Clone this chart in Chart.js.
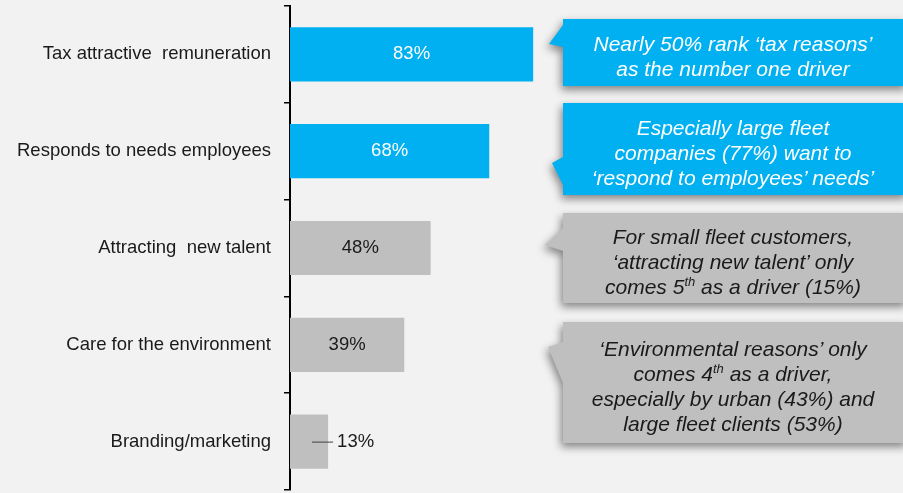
<!DOCTYPE html>
<html>
<head>
<meta charset="utf-8">
<script src="https://cdn.jsdelivr.net/npm/chart.js@4.4.1/dist/chart.umd.min.js"></script>
<style>
    html, body { margin: 0; padding: 0; background: #f2f2f2; }
    #wrap { position: relative; width: 903px; height: 493px; overflow: hidden; }
    #chart { position: absolute; left: 0; top: 0; }
    .shd { position: absolute; filter: drop-shadow(-2px 4px 4px rgba(0,0,0,0.45)); }
    .co {
        position: absolute; left: 0; top: 0; right: 0; bottom: 0;
        display: flex; align-items: center; justify-content: center;
        box-sizing: border-box; padding-top: 6px;
        font-family: "Liberation Sans", Arial, sans-serif; font-style: italic;
        font-size: 21px; line-height: 25px; text-align: center;
    }
    .co sup { font-size: 13px; line-height: 0; vertical-align: 8px; }
    .blue { background: #00b0f0; color: #ffffff; }
    .grey { background: #bfbfbf; color: #1a1a1a; }
</style>
</head>
<body>
<div id="wrap">
    <canvas id="chart" width="903" height="493"></canvas>
</div>
<script>
//Данные графика
var categories = ["Tax attractive  remuneration", "Responds to needs employees", "Attracting  new talent", "Care for the environment", "Branding/marketing"];
var values = [83, 68, 48, 39, 13];
var barColors = ["#00b0f0", "#00b0f0", "#bfbfbf", "#bfbfbf", "#bfbfbf"];
var labelColors = ["#ffffff", "#ffffff", "#1a1a1a", "#1a1a1a", "#1a1a1a"];

//Выноски справа (tip - вершина стрелки, a1/a2 - основание стрелки, off - длина стрелки)
var callouts = [
    {top: 19, height: 67, tip: 25, a1: 6, a2: 28, off: 14, cls: "blue", html: "Nearly 50% rank ‘tax reasons’<br>as the number one driver"},
    {top: 103, height: 92, tip: 60, a1: 54, a2: 82, off: 11, cls: "blue", html: "Especially large fleet<br>companies (77%) want to<br>‘respond to employees’ needs’"},
    {top: 213, height: 90, tip: 32, a1: 15, a2: 38, off: 18, cls: "grey", html: "For small fleet customers,<br>‘attracting new talent’ only<br>comes 5<sup>th</sup> as a driver (15%)"},
    {top: 322, height: 121, tip: 25, a1: 20, a2: 61, off: 15, cls: "grey", html: "‘Environmental reasons’ only<br>comes 4<sup>th</sup> as a driver,<br>especially by urban (43%) and<br>large fleet clients (53%)"}
];

function BuildCallouts() {
    var wrap = document.getElementById("wrap");
    var boxLeft = 563, pad = 18;
    callouts.forEach(function (c) {
        var s = document.createElement("div");
        s.className = "shd";
        s.style.left = (boxLeft - pad) + "px";
        s.style.top = c.top + "px";
        s.style.width = (903 - boxLeft + pad + 5) + "px";
        s.style.height = c.height + "px";
        var d = document.createElement("div");
        d.className = "co " + c.cls;
        d.style.paddingLeft = pad + "px";
        d.style.paddingRight = "5px";
        d.style.clipPath = "polygon(" + pad + "px 0, 100% 0, 100% 100%, " + pad + "px 100%, " +
            pad + "px " + c.a2 + "px, " + (pad - c.off) + "px " + c.tip + "px, " + pad + "px " + c.a1 + "px)";
        d.innerHTML = "<div>" + c.html + "</div>";
        s.appendChild(d);
        wrap.appendChild(s);
    });
}

//Подписи значений на столбцах
var valueLabels = {
    id: "valueLabels",
    afterDatasetsDraw: function (chart) {
        var ctx = chart.ctx;
        var meta = chart.getDatasetMeta(0);
        ctx.save();
        ctx.font = "18.5px 'Liberation Sans', Arial, sans-serif";
        ctx.textBaseline = "middle";
        meta.data.forEach(function (bar, i) {
            var txt = values[i] + "%";
            if (values[i] < 20) {
                ctx.strokeStyle = "#404040";
                ctx.lineWidth = 1;
                ctx.beginPath();
                ctx.moveTo(bar.x - 16, bar.y + 0.5);
                ctx.lineTo(bar.x + 5, bar.y + 0.5);
                ctx.stroke();
                ctx.fillStyle = "#1a1a1a";
                ctx.textAlign = "left";
                ctx.fillText(txt, bar.x + 9, bar.y);
            } else {
                ctx.fillStyle = labelColors[i];
                ctx.textAlign = "center";
                ctx.fillText(txt, (bar.x + bar.base) / 2, bar.y);
            }
        });
        ctx.restore();
    }
};

function BuildChart() {
    var ctx = document.getElementById("chart").getContext("2d");
    return new Chart(ctx, {
        type: "bar",
        data: {
            labels: categories,
            datasets: [{
                data: values,
                backgroundColor: barColors,
                borderWidth: 0,
                barPercentage: 0.56,
                categoryPercentage: 1
            }]
        },
        options: {
            indexAxis: "y",
            responsive: false,
            animation: false,
            layout: { padding: { top: 6, bottom: 3, right: 320, left: 0 } },
            plugins: { legend: { display: false }, tooltip: { enabled: false } },
            scales: {
                x: { display: false, min: 0, max: 100 },
                y: {
                    afterFit: function (scale) {
                        scale.width = 290;
                        scale.paddingTop = 0;
                        scale.paddingBottom = 0;
                    },
                    grid: { display: true, drawOnChartArea: false, offset: true, tickLength: 6, color: "#000", lineWidth: 1.5 },
                    border: { display: true, color: "#000", width: 2 },
                    ticks: { color: "#1a1a1a", padding: 13, font: { family: "'Liberation Sans', Arial, sans-serif", size: 18.5 } }
                }
            }
        },
        plugins: [valueLabels]
    });
}

BuildChart();
BuildCallouts();
</script>
</body>
</html>
